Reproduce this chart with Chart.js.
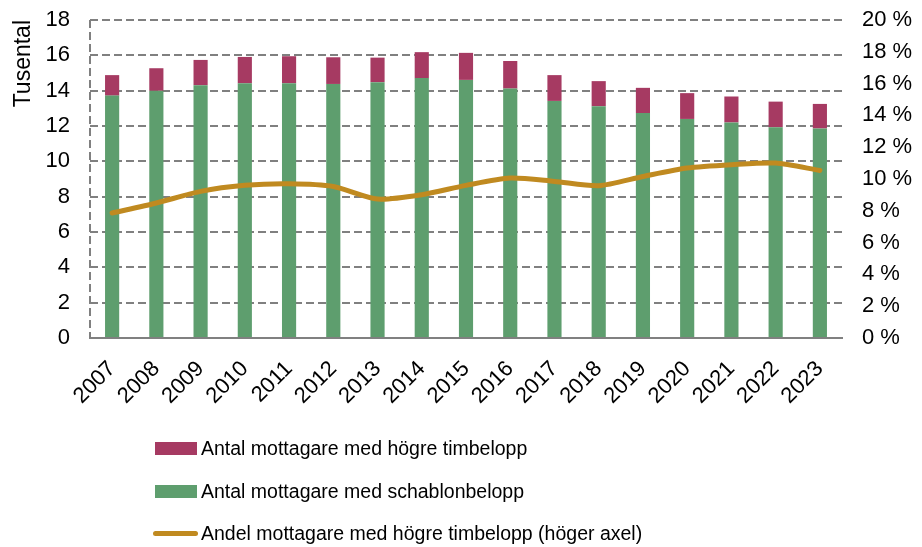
<!DOCTYPE html>
<html>
<head>
<meta charset="utf-8">
<script src="https://cdn.jsdelivr.net/npm/chart.js@4/dist/chart.umd.min.js"></script>
<style>
  html, body { margin: 0; padding: 0; background: #fff; }
  #wrap { position: relative; width: 922px; height: 547px; }
  #legend { position: absolute; left: 0; top: 0; font-family: "Liberation Sans", Arial, sans-serif; font-size: 19.5px; color: #000; }
  .row { position: absolute; left: 153px; height: 24px; display: flex; align-items: center; white-space: nowrap; }
  .swatch { width: 42px; height: 13px; margin-left: 2px; margin-right: 4px; }
  .lineSwatch { width: 45px; height: 5px; border-radius: 3px; margin-right: 3px; }
</style>
</head>
<body>
<div id="wrap">
  <canvas id="chart" width="922" height="547"></canvas>
  <div id="legend"></div>
</div>
<script>
// Years on the x axis
const years = ['2007', '2008', '2009', '2010', '2011', '2012', '2013', '2014', '2015',
  '2016', '2017', '2018', '2019', '2020', '2021', '2022', '2023'];

// Thousands of recipients with the standard amount (green)
const schablonbelopp = [13.72, 13.99, 14.31, 14.42, 14.42, 14.38, 14.48, 14.71, 14.61,
  14.12, 13.42, 13.12, 12.73, 12.40, 12.20, 11.93, 11.86];

// Thousands of recipients with higher hourly amount (pink, stacked on top)
const hogreTimbelopp = [1.16, 1.28, 1.43, 1.49, 1.53, 1.51, 1.39, 1.47, 1.53,
  1.56, 1.46, 1.42, 1.43, 1.46, 1.47, 1.45, 1.39];

// Share with higher hourly amount, percent (right axis)
const andelHogre = [7.86, 8.49, 9.22, 9.60, 9.70, 9.53, 8.74, 9.01, 9.60,
  10.06, 9.85, 9.58, 10.16, 10.69, 10.90, 11.00, 10.54];

const colors = {
  pink: '#A63A62',
  green: '#5E9E6E',
  gold: '#C08A20',
  grid: '#808080'
};

const fontFamily = '"Liberation Sans", Arial, sans-serif';

const legendItems = [
  { label: 'Antal mottagare med högre timbelopp', color: colors.pink, type: 'box', top: 436 },
  { label: 'Antal mottagare med schablonbelopp', color: colors.green, type: 'box', top: 479 },
  { label: 'Andel mottagare med högre timbelopp (höger axel)', color: colors.gold, type: 'line', top: 521 }
];

function renderLegend() {
  const el = document.getElementById('legend');
  el.innerHTML = legendItems.map(item => `
    <div class="row" style="top:${item.top}px">
      <div class="${item.type === 'box' ? 'swatch' : 'lineSwatch'}" style="background:${item.color}"></div>
      <span>${item.label}</span>
    </div>
  `).join('');
}

// keep the plot area at fixed pixel edges
function fixVertical(width) {
  return scale => {
    scale.width = width;
    scale.paddingTop = 0;
    scale.paddingBottom = 0;
  };
}

const ctx = document.getElementById('chart').getContext('2d');
const chart = new Chart(ctx, {
  type: 'bar',
  data: {
    labels: years,
    datasets: [
      {
        type: 'line',
        label: 'Andel mottagare med högre timbelopp (höger axel)',
        data: andelHogre,
        yAxisID: 'y1',
        borderColor: colors.gold,
        borderWidth: 5,
        pointRadius: 0,
        tension: 0.25,
        borderCapStyle: 'round',
        order: 0
      },
      {
        label: 'Antal mottagare med schablonbelopp',
        data: schablonbelopp,
        backgroundColor: colors.green,
        stack: 's',
        yAxisID: 'y',
        barPercentage: 0.32,
        categoryPercentage: 1,
        order: 1
      },
      {
        label: 'Antal mottagare med högre timbelopp',
        data: hogreTimbelopp,
        backgroundColor: colors.pink,
        stack: 's',
        yAxisID: 'y',
        barPercentage: 0.32,
        categoryPercentage: 1,
        order: 2
      }
    ]
  },
  options: {
    responsive: false,
    animation: false,
    layout: { padding: { top: 20, left: 0, right: 0, bottom: 0 } },
    plugins: {
      legend: { display: false },
      tooltip: { enabled: false }
    },
    scales: {
      x: {
        stacked: true,
        // only the first vertical grid line is shown: the dashed left edge
        grid: {
          drawTicks: false,
          lineWidth: 2,
          color: c => (c.index === 0 ? colors.grid : 'transparent')
        },
        border: { display: true, color: colors.grid, width: 2, dash: [8, 4] },
        ticks: {
          color: '#000',
          font: { family: fontFamily, size: 22 },
          minRotation: 45,
          maxRotation: 45,
          padding: 18,
          autoSkip: false
        },
        afterFit: scale => { scale.height = 209; }
      },
      y: {
        stacked: true,
        position: 'left',
        min: 0,
        max: 18,
        ticks: {
          stepSize: 2,
          color: '#000',
          padding: 20,
          font: { family: fontFamily, size: 22 }
        },
        grid: { color: colors.grid, lineWidth: 2, drawTicks: false },
        border: { display: false, dash: [8, 4] },
        title: {
          display: true,
          text: 'Tusental',
          align: 'end',
          color: '#000',
          padding: { top: 10, bottom: 0 },
          font: { family: fontFamily, size: 23 }
        },
        afterFit: fixVertical(90)
      },
      y1: {
        position: 'right',
        min: 0,
        max: 20,
        ticks: {
          stepSize: 2,
          color: '#000',
          padding: 20,
          font: { family: fontFamily, size: 22 },
          callback: v => v + ' %'
        },
        grid: { drawOnChartArea: false, drawTicks: false },
        border: { display: false },
        afterFit: fixVertical(80)
      }
    }
  }
});

renderLegend();
</script>
</body>
</html>
